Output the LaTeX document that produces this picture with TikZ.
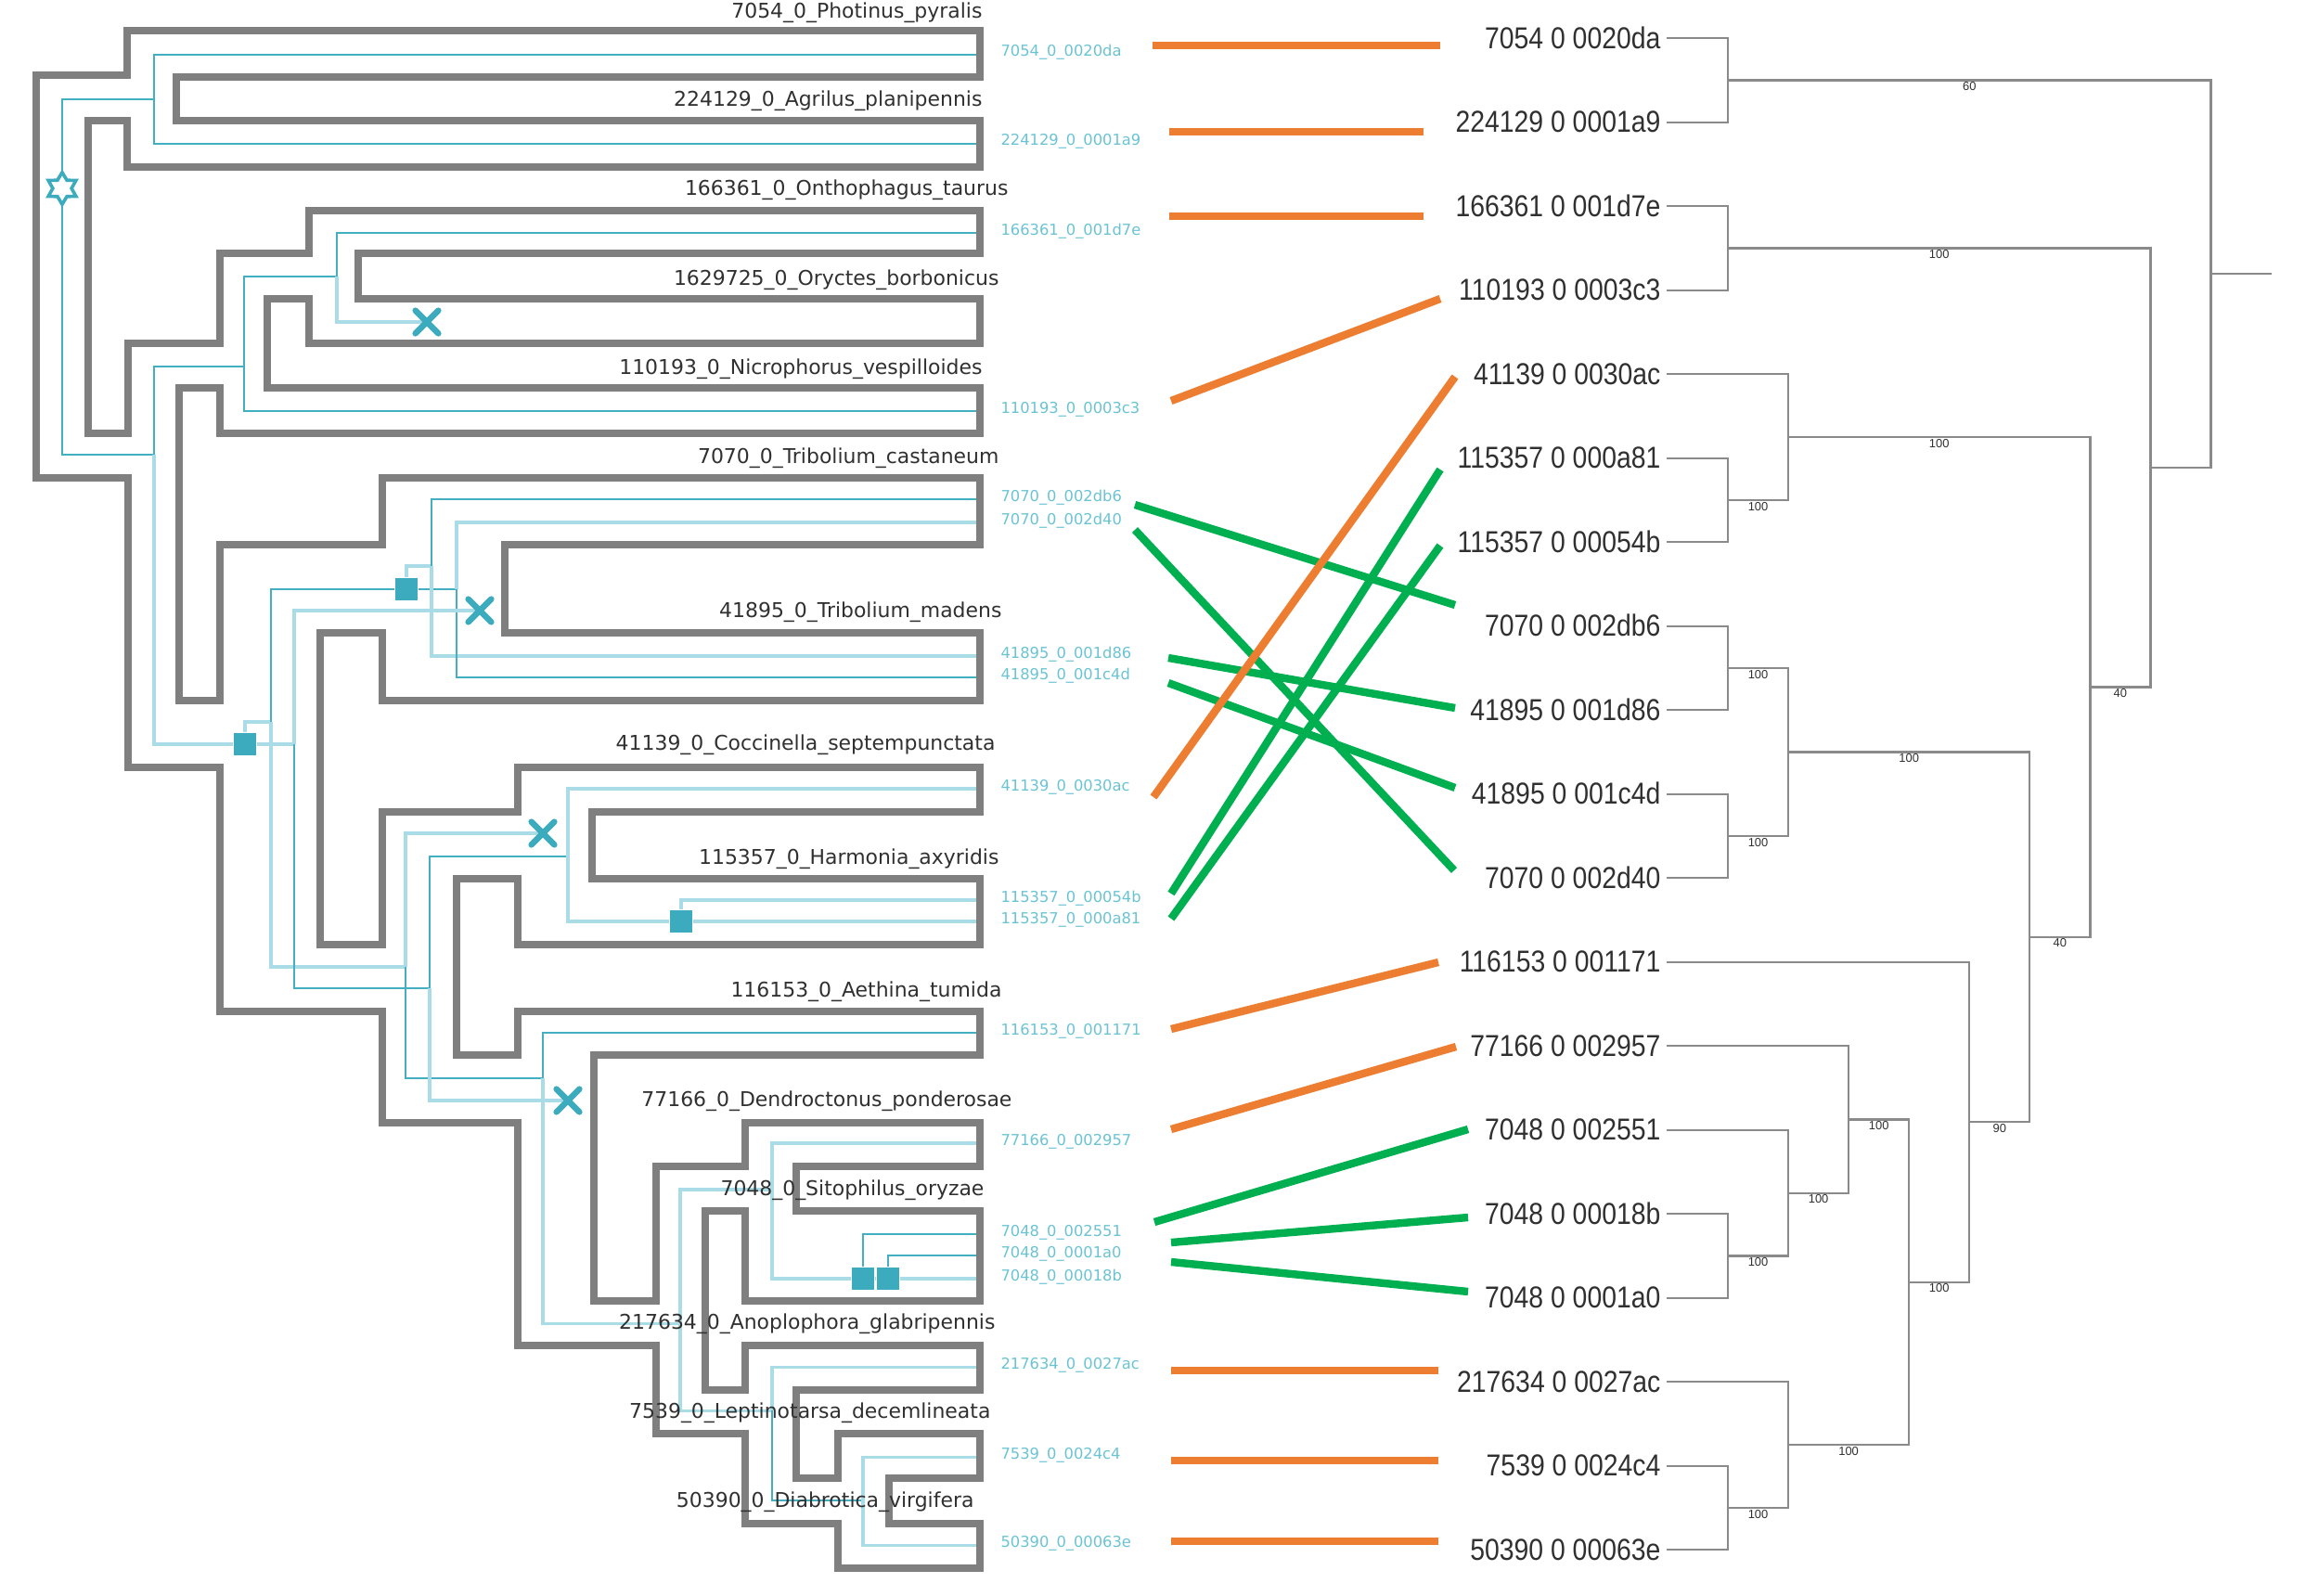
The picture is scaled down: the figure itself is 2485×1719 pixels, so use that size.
\documentclass[tikz,border=0pt]{standalone}
\usepackage{fontspec}
\usepackage{tikz}
\usetikzlibrary{calc,shapes.geometric,shapes.misc}
\newfontfamily\dejavu{DejaVu Sans}
\newfontfamily\arialf{Liberation Sans}
\definecolor{turuncu}{HTML}{ED7D31}
\definecolor{yesil}{HTML}{00B050}
\definecolor{tupGri}{HTML}{7F7F7F}
\definecolor{agacGri}{HTML}{8A8A8A}
\definecolor{yaziGri}{HTML}{303030}
\definecolor{koyuMavi}{HTML}{45AFC2}
\definecolor{acikMavi}{HTML}{A9DCE6}
\definecolor{isaretMavi}{HTML}{3DABBE}
\definecolor{etiketMavi}{HTML}{6AC3D3}
\newcommand{\dugum}[4]{%
  \path ($(#3)!0.5!(#4)$) coordinate (ara);
  \coordinate (#1) at (ara -| #2);
  \draw[dal] (#3) -| (#1) |- (#4);}

\begin{document}
\begin{tikzpicture}[x=0.125mm,y=-0.125mm,
  tup/.style={tupGri,line width=1mm,line join=miter},
  koyu/.style={koyuMavi,line width=0.22mm},
  acik/.style={acikMavi,line width=0.38mm},
  kayip/.style={cross out,draw=isaretMavi,line width=0.8mm,line cap=round,minimum size=2.3mm,inner sep=0pt},
  kopya/.style={rectangle,fill=isaretMavi,draw=white,line width=0.1mm,minimum width=3.1mm,minimum height=3.2mm,inner sep=0pt},
  kok/.style={star,star points=6,star point ratio=1.7,draw=isaretMavi,fill=white,line width=0.45mm,minimum size=4.3mm,inner sep=0pt},
  turYazi/.style={anchor=base east,inner sep=0pt,text=yaziGri,font=\dejavu\fontsize{7.8}{8}\selectfont},
  genYazi/.style={anchor=base west,inner sep=0pt,text=etiketMavi,font=\dejavu\fontsize{5.8}{6}\selectfont},
  sagYazi/.style={anchor=base east,inner sep=0pt,text=yaziGri,font=\arialf\fontsize{11.6}{12}\selectfont},
  dal/.style={agacGri,line width=0.28mm},
  destek/.style={anchor=north,inner sep=0.5pt,text=yaziGri,font=\arialf\fontsize{4.6}{5}\selectfont},
  bag/.style={line width=1.05mm}]
\useasboundingbox (0,0) rectangle (2485,1719);

% species tree tube
\draw[tup] (39,515) -- (39,81) -- (137,81) -- (137,33) -- (1056,33) -- (1056,83) -- (190,83) -- (190,130) -- (1056,130) -- (1056,180) -- (137,180) -- (137,130) -- (95,130) -- (95,467) -- (138,467) -- (138,370) -- (237,370) -- (237,273) -- (333,273) -- (333,227) -- (1056,227) -- (1056,273) -- (386,273) -- (386,322) -- (1056,322) -- (1056,370) -- (333,370) -- (333,322) -- (288,322) -- (288,418) -- (1056,418) -- (1056,467) -- (237,467) -- (237,418) -- (193,418) -- (193,755) -- (237,755) -- (237,587) -- (412,587) -- (412,515) -- (1056,515) -- (1056,587) -- (544,587) -- (544,682) -- (1056,682) -- (1056,755) -- (412,755) -- (412,682) -- (345,682) -- (345,1018) -- (412,1018) -- (412,875) -- (558,875) -- (558,827) -- (1056,827) -- (1056,875) -- (638,875) -- (638,947) -- (1056,947) -- (1056,1018) -- (558,1018) -- (558,947) -- (492,947) -- (492,1137) -- (558,1137) -- (558,1090) -- (1056,1090) -- (1056,1137) -- (640,1137) -- (640,1402) -- (707,1402) -- (707,1257) -- (803,1257) -- (803,1210) -- (1056,1210) -- (1056,1257) -- (858,1257) -- (858,1305) -- (1056,1305) -- (1056,1402) -- (803,1402) -- (803,1305) -- (760,1305) -- (760,1498) -- (803,1498) -- (803,1450) -- (1056,1450) -- (1056,1498) -- (858,1498) -- (858,1593) -- (903,1593) -- (903,1545) -- (1056,1545) -- (1056,1593) -- (958,1593) -- (958,1642) -- (1056,1642) -- (1056,1690) -- (903,1690) -- (903,1642) -- (803,1642) -- (803,1545) -- (707,1545) -- (707,1450) -- (558,1450) -- (558,1210) -- (412,1210) -- (412,1090) -- (237,1090) -- (237,827) -- (138,827) -- (138,515) -- cycle;

% gene leaves and labels
\foreach \yy/\lab [count=\k from 0] in {59/7054\_0\_0020da, 155/224129\_0\_0001a9, 251/166361\_0\_001d7e, 443/110193\_0\_0003c3, 538/7070\_0\_002db6, 563/7070\_0\_002d40, 707/41895\_0\_001d86, 730/41895\_0\_001c4d, 850/41139\_0\_0030ac, 970/115357\_0\_00054b, 993/115357\_0\_000a81, 1113/116153\_0\_001171, 1232/77166\_0\_002957, 1330/7048\_0\_002551, 1353/7048\_0\_0001a0, 1378/7048\_0\_00018b, 1473/217634\_0\_0027ac, 1570/7539\_0\_0024c4, 1665/50390\_0\_00063e} {
  \coordinate (e\k) at (1052,\yy);
  \node[genYazi] (gy\k) at (1078,\yy+2) {\lab};
}

% gene tree nodes
\coordinate (gKok) at (67,203);
\coordinate (gPA) at (166,107);
\coordinate (gB) at (166,490);
\coordinate (gC) at (263,395);
\coordinate (gE) at (363,298);
\coordinate (gD1) at (264,802);
\coordinate (gF) at (292,778);
\coordinate (gG) at (317,802);
\coordinate (gH) at (438,635);
\coordinate (gJ) at (465,610);
\coordinate (gK) at (492,635);
\coordinate (gI) at (437,1042);
\coordinate (gM) at (463,1065);
\coordinate (gO) at (612,923);
\coordinate (gDH) at (734,993);
\coordinate (gN) at (585,1162);
\coordinate (gP) at (733,1426);
\coordinate (gQ) at (832,1282);
\coordinate (gS) at (832,1520);
\coordinate (gS1) at (930,1378);
\coordinate (gS2) at (957,1378);
\coordinate (gT) at (930,1617);
\coordinate (x1) at (460,347);
\coordinate (x2) at (517,658);
\coordinate (x3) at (585,898);
\coordinate (x4) at (612,1186);

\draw[koyu] (gKok) |- (gPA);
\draw[koyu] (gKok) |- (gB);
\draw[koyu] (gPA) |- (e0);
\draw[koyu] (gPA) |- (e1);
\draw[koyu] (gB) |- (gC);
\draw[acik] (gB) |- (gD1);
\draw[koyu] (gC) |- (gE);
\draw[koyu] (gC) |- (e3);
\draw[koyu] (gE) |- (e2);
\draw[acik] (gE) |- (x1);
\draw[acik] (gD1) |- (gF);
\draw[acik] (gD1) -- (gG);
\draw[koyu] (gF) |- (gH);
\draw[acik] (gF) |- (gI);
\draw[acik] (gH) |- (gJ);
\draw[koyu] (gH) -- (gK);
\draw[koyu] (gJ) |- (e4);
\draw[acik] (gJ) |- (e6);
\draw[acik] (gK) |- (e5);
\draw[koyu] (gK) |- (e7);
\draw[acik] (gG) |- (x2);
\draw[koyu] (gG) |- (gM);
\draw[acik] (gI) |- (x3);
\draw[koyu] (gI) |- (gN);
\draw[koyu] (gM) |- (gO);
\draw[acik] (gM) |- (x4);
\draw[acik] (gO) |- (e8);
\draw[acik] (gO) |- (gDH);
\draw[acik] (gDH) |- (e9);
\draw[acik] (gDH) -- (e10);
\draw[koyu] (gN) |- (e11);
\draw[acik] (gN) |- (gP);
\draw[acik] (gP) |- (gQ);
\draw[acik] (gP) |- (gS);
\draw[acik] (gQ) |- (e12);
\draw[acik] (gQ) |- (gS1);
\draw[koyu] (gS1) |- (e13);
\draw[acik] (gS1) -- (gS2);
\draw[koyu] (gS2) |- (e14);
\draw[acik] (gS2) -- (e15);
\draw[acik] (gS) |- (e16);
\draw[koyu] (gS) |- (gT);
\draw[acik] (gT) |- (e17);
\draw[acik] (gT) |- (e18);

% events
\node[kok] (kokIsaret) at (gKok) {};
\foreach \n in {x1,x2,x3,x4}
  \node[kayip] (k\n) at (\n) {};
\foreach \n in {gD1,gH,gDH,gS1,gS2}
  \node[kopya] (d\n) at (\n) {};

% species labels
\foreach \xx/\yy/\lab [count=\k] in {1059/20/7054\_0\_Photinus\_pyralis, 1059/115/224129\_0\_Agrilus\_planipennis, 1087/210/166361\_0\_Onthophagus\_taurus, 1077/307/1629725\_0\_Oryctes\_borbonicus, 1059/403/110193\_0\_Nicrophorus\_vespilloides, 1077/499/7070\_0\_Tribolium\_castaneum, 1080/665/41895\_0\_Tribolium\_madens, 1073/808/41139\_0\_Coccinella\_septempunctata, 1077/931/115357\_0\_Harmonia\_axyridis, 1080/1074/116153\_0\_Aethina\_tumida, 1091/1192/77166\_0\_Dendroctonus\_ponderosae, 1061/1288/7048\_0\_Sitophilus\_oryzae, 1073/1432/217634\_0\_Anoplophora\_glabripennis, 1068/1528/7539\_0\_Leptinotarsa\_decemlineata, 1050/1624/50390\_0\_Diabrotica\_virgifera}
  \node[turYazi] (tur\k) at (\xx,\yy) {\lab};

% right tree
\foreach \lab [count=\k from 0] in {7054 0 0020da, 224129 0 0001a9, 166361 0 001d7e, 110193 0 0003c3, 41139 0 0030ac, 115357 0 000a81, 115357 0 00054b, 7070 0 002db6, 41895 0 001d86, 41895 0 001c4d, 7070 0 002d40, 116153 0 001171, 77166 0 002957, 7048 0 002551, 7048 0 00018b, 7048 0 0001a0, 217634 0 0027ac, 7539 0 0024c4, 50390 0 00063e} {
  \coordinate (yp\k) at (1796,{41.3+90.5*\k});
  \node[sagYazi] (sy\k) at (1790,{52.3+90.5*\k}) {\scalebox{0.87}[1]{\lab}};
}
\foreach \i in {1,...,9}
  \coordinate (L\i) at ({1862+65.06*(\i-1)},0);
\dugum{dA}{L1}{yp0}{yp1}
\dugum{dB}{L1}{yp2}{yp3}
\dugum{dC}{L1}{yp5}{yp6}
\dugum{dD}{L2}{yp4}{dC}
\dugum{dE}{L1}{yp7}{yp8}
\dugum{dF}{L1}{yp9}{yp10}
\dugum{dG}{L2}{dE}{dF}
\dugum{dX1}{L1}{yp14}{yp15}
\dugum{dX2}{L2}{yp13}{dX1}
\dugum{dX3}{L3}{yp12}{dX2}
\dugum{dI}{L1}{yp17}{yp18}
\dugum{dH}{L2}{yp16}{dI}
\dugum{dX4}{L4}{dX3}{dH}
\dugum{dX5}{L5}{yp11}{dX4}
\dugum{dX6}{L6}{dG}{dX5}
\dugum{dX7}{L7}{dD}{dX6}
\dugum{dX8}{L8}{dB}{dX7}
\dugum{dR}{L9}{dA}{dX8}
\draw[dal] (dR) -- ++(65,0) coordinate (kokUc);
\foreach \ch/\pa/\v in {dA/dR/60, dB/dX8/100, dC/dD/100, dD/dX7/100, dE/dG/100, dF/dG/100, dG/dX6/100, dX7/dX8/40, dX6/dX7/40, dX5/dX6/90, dX4/dX5/100, dX3/dX4/100, dX2/dX3/100, dX1/dX2/100, dH/dX4/100, dI/dH/100}
  \node[destek] (ds\ch) at ($(\ch)!0.5!(\ch -| \pa)$) {\v};

% links between the two trees
\foreach \i/\ax/\ay/\bx/\by/\renk in {1/1223/544/1568/652/yesil, 2/1223/571/1567/938/yesil, 3/1259/709/1568/763/yesil, 4/1259/736/1568/849/yesil, 5/1262/963/1552/506/yesil, 6/1262/990/1552/588/yesil, 7/1244/1317/1582/1217/yesil, 8/1262/1339/1582/1312/yesil, 9/1262/1360/1582/1392/yesil, 10/1242/49/1552/49/turuncu, 11/1260/142/1534/142/turuncu, 12/1260/233/1534/233/turuncu, 13/1262/432/1552/322/turuncu, 14/1243/859/1568/406/turuncu, 15/1262/1109/1550/1037/turuncu, 16/1262/1217/1569/1128/turuncu, 17/1262/1477/1550/1477/turuncu, 18/1262/1574/1550/1574/turuncu, 19/1262/1661/1550/1661/turuncu} {
  \coordinate (ba\i) at (\ax,\ay);
  \coordinate (bi\i) at (\bx,\by);
  \draw[bag,\renk] (ba\i) -- (bi\i);
}
\end{tikzpicture}
\end{document}
